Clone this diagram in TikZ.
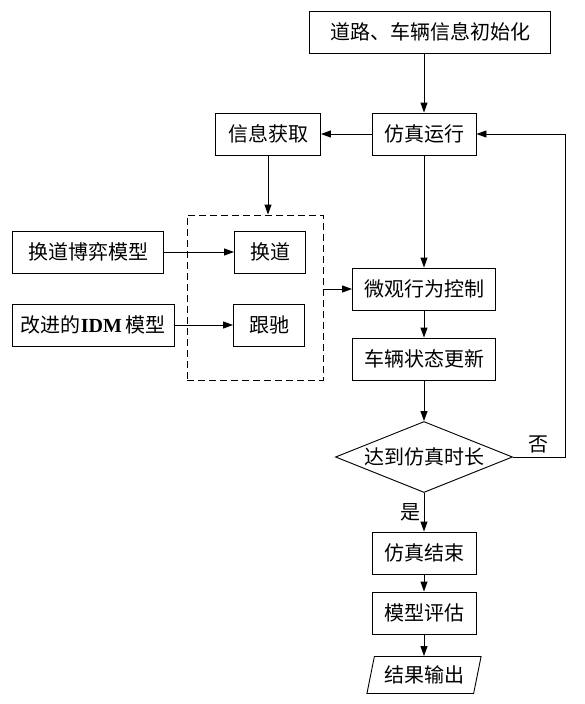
\documentclass[tikz,border=0pt]{standalone}
\usepackage{fontspec}
\setmainfont{Noto Sans CJK SC}
\newfontfamily\latinfont{Liberation Serif}
\usetikzlibrary{
	arrows.meta,
	shapes.geometric,
	positioning
}

\begin{document}
\begin{tikzpicture}[x=1pt, y=-1pt,
		font=\fontsize{20}{24}\selectfont,
		box/.style={draw, line width=0.9pt, minimum height=42pt, inner sep=0pt},
		link/.style={line width=0.9pt, -{Triangle[length=10pt, width=7pt]}}]
		\useasboundingbox (0,0) rectangle (585,704);
		\node[box, minimum width=241pt] (init) at (430,32) {道路、车辆信息初始化};
		\node[box, minimum width=104pt] (run) at (424,134) {仿真运行};
		\node[box, minimum width=105pt] (info) at (268,134) {信息获取};
		\node[draw, line width=0.9pt, dash pattern=on 7pt off 4pt, minimum width=136pt, minimum height=165pt] (group) at (255,297.5) {};
		\node[box, minimum width=71pt] (lc) at (270,252) {换道};
		\node[box, minimum width=71pt] (cf) at (269,325) {跟驰};
		\node[box, minimum width=151pt] (game) at (88,252) {换道博弈模型};
		\node[box, minimum width=162pt] (idm) at (93,325) {改进的{\latinfont\bfseries IDM}\,模型};
		\node[box, minimum width=143pt] (ctrl) at (424,289) {微观行为控制};
		\node[box, minimum width=143pt] (update) at (424,359) {车辆状态更新};
		\node[draw, diamond, aspect=2.5, inner sep=0pt, line width=0.9pt, minimum width=177pt, minimum height=71pt] (judge) at (424,457) {达到仿真时长};
		\node[box, minimum width=104pt] (finish) at (424,553) {仿真结束};
		\node[box, minimum width=104pt] (eval) at (424,613) {模型评估};
		\node[draw, trapezium, trapezium left angle=72, trapezium right angle=108, trapezium stretches=true, line width=0.9pt, inner sep=0pt, minimum width=115pt, minimum height=37pt] (output) at (424,675) {结果输出};
		\coordinate (back) at (565,457);
		\draw[link] (init.south -| run) -- (run);
		\draw[link] (run) -- (info);
		\draw[link] (info) -- (info |- group.north);
		\draw[link] (game) -- (lc);
		\draw[link] (idm) -- (cf);
		\draw[link] (group.east |- ctrl) -- (ctrl);
		\draw[link] (run) -- (ctrl);
		\draw[link] (ctrl) -- (update);
		\draw[link] (update) -- (judge);
		\draw[link] (judge.east) -- node[above] (no) {否} (back) |- (run.east);
		\draw[link] (judge) -- node[left] (yes) {是} (finish);
		\draw[link] (finish) -- (eval);
		\draw[link] (eval) -- (output);
	\end{tikzpicture}
\end{document}
